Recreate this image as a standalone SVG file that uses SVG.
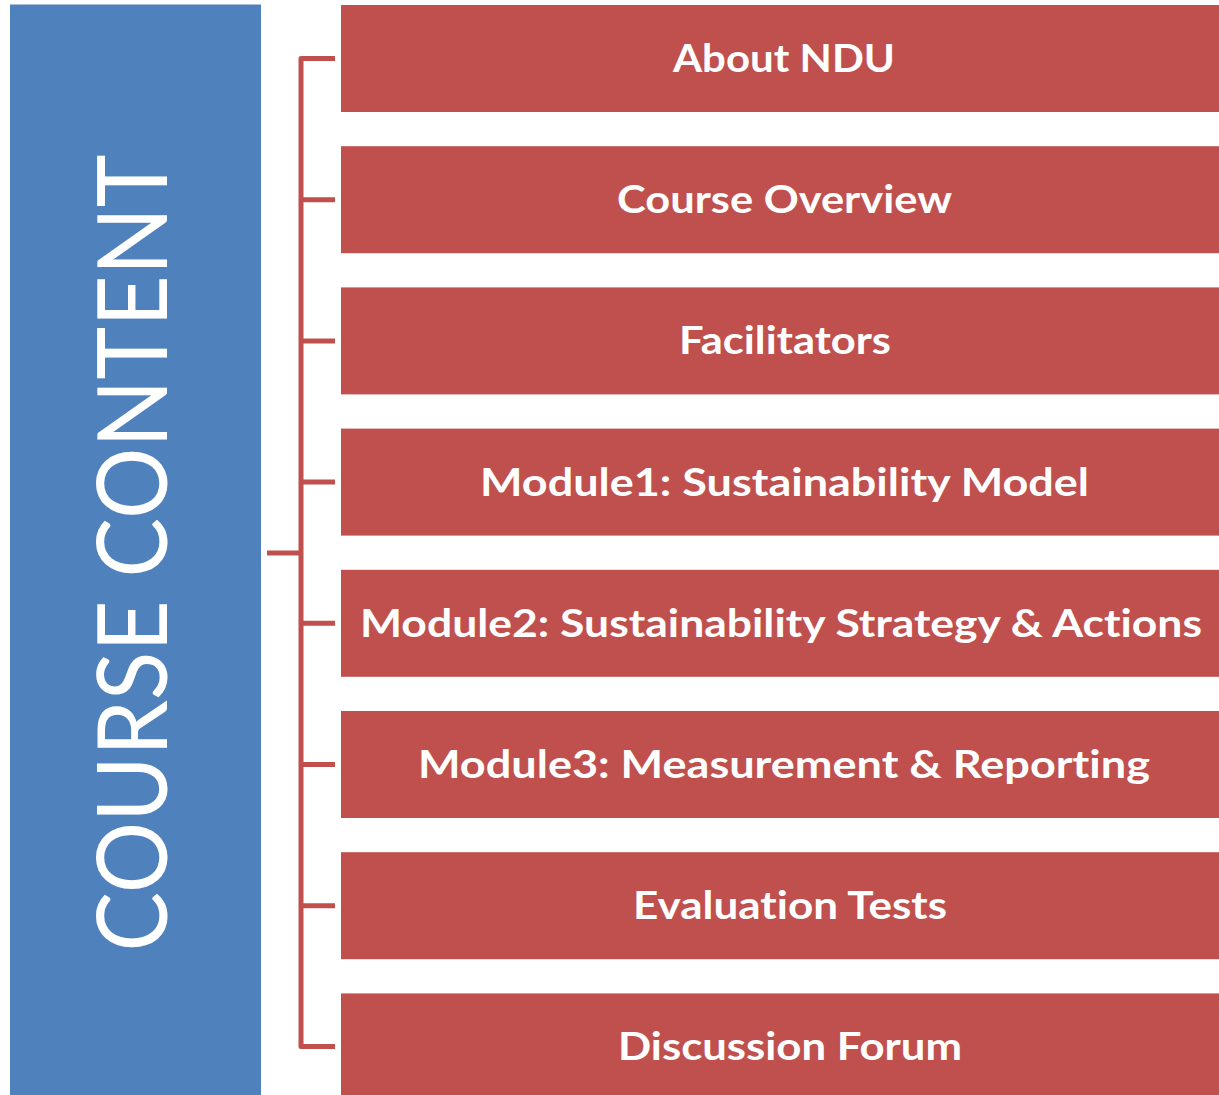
<svg xmlns="http://www.w3.org/2000/svg" width="1219" height="1095" viewBox="0 0 1219 1095">
<style>
.box{fill:#C0504D}
.lbl{font-family:Lato,"Open Sans","Liberation Sans",sans-serif;font-weight:bold;font-size:39px;fill:#fff;font-variant-ligatures:none}
.conn{fill:none;stroke:#C0504D;stroke-width:5;stroke-linejoin:round}
</style>
<g id="root">
<rect x="10" y="4.5" width="251" height="1095" fill="#4F81BD"/>
<text transform="translate(167,553) rotate(-90)" x="0" y="0" text-anchor="middle" font-family="Lato,'Open Sans','Liberation Sans',sans-serif" font-size="96" fill="#fff" textLength="797" lengthAdjust="spacingAndGlyphs">COURSE CONTENT</text>
</g>
<g id="connectors">
<path class="conn" d="M335,58.5 H301 V1046.5 H335"/>
<path class="conn" d="M267,553 H301"/>
<path class="conn" d="M301,199.7 H335 M301,340.9 H335 M301,482.1 H335 M301,623.3 H335 M301,764.5 H335 M301,905.7 H335"/>
</g>
<g id="n1"><rect class="box" x="341" y="5" width="878" height="107"/><text class="lbl" x="673" y="72" textLength="222" lengthAdjust="spacingAndGlyphs">About NDU</text></g>
<g id="n2"><rect class="box" x="341" y="146.2" width="878" height="107"/><text class="lbl" x="617" y="213.2" textLength="335" lengthAdjust="spacingAndGlyphs">Course Overview</text></g>
<g id="n3"><rect class="box" x="341" y="287.4" width="878" height="107"/><text class="lbl" x="679" y="354.4" textLength="212" lengthAdjust="spacingAndGlyphs">Facilitators</text></g>
<g id="n4"><rect class="box" x="341" y="428.6" width="878" height="107"/><text class="lbl" x="480" y="495.6" textLength="609" lengthAdjust="spacingAndGlyphs">Module1: Sustainability Model</text></g>
<g id="n5"><rect class="box" x="341" y="569.8" width="878" height="107"/><text class="lbl" x="360" y="636.8" textLength="842" lengthAdjust="spacingAndGlyphs">Module2: Sustainability Strategy &amp; Actions</text></g>
<g id="n6"><rect class="box" x="341" y="711" width="878" height="107"/><text class="lbl" x="418" y="778" textLength="732" lengthAdjust="spacingAndGlyphs">Module3: Measurement &amp; Reporting</text></g>
<g id="n7"><rect class="box" x="341" y="852.2" width="878" height="107"/><text class="lbl" x="633" y="919.2" textLength="314" lengthAdjust="spacingAndGlyphs">Evaluation Tests</text></g>
<g id="n8"><rect class="box" x="341" y="993.4" width="878" height="110"/><text class="lbl" x="618" y="1060.4" textLength="344" lengthAdjust="spacingAndGlyphs">Discussion Forum</text></g>
</svg>
